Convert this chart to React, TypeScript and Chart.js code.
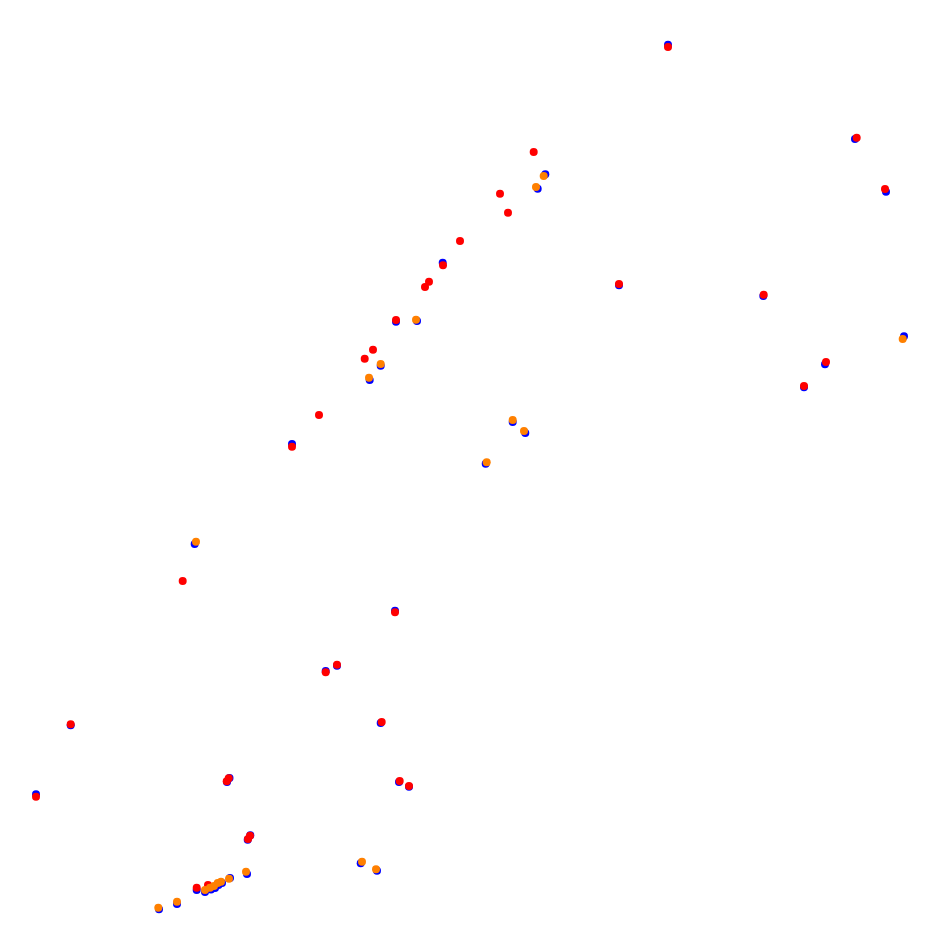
import React, { useEffect, useRef } from "react";
import { Chart, registerables } from "chart.js";

Chart.register(...registerables);

// Coordinates in the chart's own (pixel-like) units; y grows downward.
const blueX = [668, 855, 886, 904, 763.3, 619, 825, 804, 545.3, 537.7, 442.7, 396, 417, 380.7, 369.7, 292, 512.7, 525.3, 485.7, 194.7, 395, 337, 325.7, 70.7, 380.7, 36, 227, 229.5, 399, 409, 247.7, 250.3, 360.7, 377, 247, 196.7, 205, 211, 215, 218.5, 222, 230, 177, 159];
const blueY = [44.7, 139, 191.7, 336.3, 296, 285.3, 364.3, 387.3, 174.3, 188.7, 262.7, 321.7, 321, 365.7, 380, 444, 422, 433, 463.7, 544, 610.7, 665.7, 671, 725.3, 723, 794.3, 782, 778, 782, 786.7, 839.7, 835.3, 863.3, 870.7, 874, 890, 892, 889.5, 888, 885, 883, 878, 904, 909.3];

const redX = [668, 856.7, 885, 763.7, 619, 826, 804, 533.7, 500, 508, 460, 443, 429, 425, 396, 373, 364.7, 319, 292, 182.7, 395, 337, 325.7, 70.7, 381.7, 36, 226.7, 228.7, 399.7, 409, 248, 250, 196.7, 208];
const redY = [47, 137.7, 189, 294.7, 284, 362, 386, 152, 193.7, 212.7, 241, 265.3, 281.7, 287, 320, 349.7, 358.7, 415, 446.7, 581, 612.3, 664.7, 672.3, 724.3, 722, 796.7, 781.3, 778.3, 781, 786, 839, 835.7, 887.7, 885];

const orangeX = [902.7, 543.7, 536, 416, 380.7, 369, 512.7, 524, 486.7, 196, 362, 376, 246, 229, 221, 217.7, 214, 210, 205, 177, 158.3];
const orangeY = [339, 176, 187, 319.7, 364, 377.7, 420, 431, 462.3, 541.7, 861.7, 869.3, 871.7, 878.7, 881.7, 883, 886, 887.7, 890, 901.7, 907.7];

const toPoints = (xs: number[], ys: number[]) => xs.map((x, i) => ({ x, y: ys[i] }));

export default function App() {
  const ref = useRef<HTMLCanvasElement | null>(null);
  useEffect(() => {
    if (!ref.current) return;
    const chart = new Chart(ref.current, {
      type: "scatter",
      data: {
        datasets: [
          { label: "orange", data: toPoints(orangeX, orangeY), backgroundColor: "#ff8000", borderColor: "#ff8000", pointRadius: 4, borderWidth: 0 },
          { label: "red", data: toPoints(redX, redY), backgroundColor: "#ff0000", borderColor: "#ff0000", pointRadius: 4, borderWidth: 0 },
          { label: "blue", data: toPoints(blueX, blueY), backgroundColor: "#0000ff", borderColor: "#0000ff", pointRadius: 4, borderWidth: 0 },
        ],
      },
      options: {
        animation: false,
        responsive: true,
        maintainAspectRatio: false,
        layout: { padding: 0, autoPadding: false },
        plugins: { legend: { display: false }, tooltip: { enabled: false } },
        scales: {
          x: { type: "linear", min: 8, max: 925, display: false },
          y: { type: "linear", min: 8, max: 932, reverse: true, display: false },
        },
      },
    });
    return () => chart.destroy();
  }, []);
  return (
    <div style={{ width: 917, height: 924, position: "relative" }}>
      <canvas ref={ref} />
    </div>
  );
}
